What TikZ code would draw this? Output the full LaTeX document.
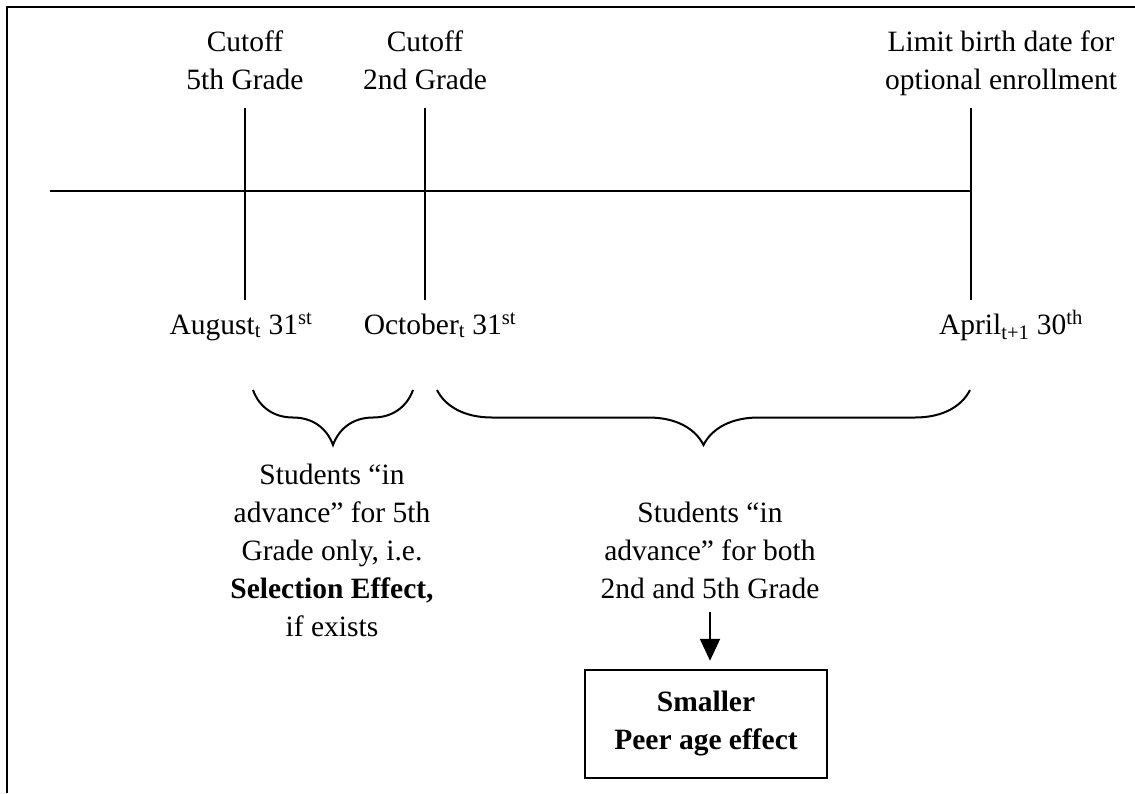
\documentclass[tikz,border=0pt]{standalone}
\usepackage{fontspec}
\setmainfont{Liberation Serif}
\usetikzlibrary{arrows.meta, decorations.pathreplacing}

\begin{document}
\begin{tikzpicture}[x=1pt, y=-1pt, line width=2pt,
  lbl/.style={align=center, inner sep=0pt, font=\fontsize{29.5}{38}\selectfont},
  brc/.style={decorate, decoration={brace, mirror, amplitude=#1}},
  brc/.default=55pt]
\useasboundingbox (0,0) rectangle (1135,793);

\begin{scope}
\coordinate (f1) at (7,793);
\coordinate (f2) at (7,7);
\coordinate (f3) at (1135,7);

\coordinate (t1) at (50,191);
\coordinate (t2) at (971,191);

\coordinate (a1) at (245,108);
\coordinate (a2) at (245,300);
\coordinate (b1) at (425,108);
\coordinate (b2) at (425,300);
\coordinate (c1) at (971,108);
\coordinate (c2) at (971,300);

\draw[line width=2.5pt] (f1) -- (f2) -- (f3);

\draw (t1) -- (t2);
\draw (a1) -- (a2);
\draw (b1) -- (b2);
\draw (c1) -- (c2);

\node[lbl, anchor=north] (cut5) at (245,30) {Cutoff\\5th Grade};
\node[lbl, anchor=north] (cut2) at (425,30) {Cutoff\\2nd Grade};
\node[lbl, anchor=north] (limit) at (1001,30) {Limit birth date for\\optional enrollment};

\node[lbl, anchor=base] (aug) at (241,334) {August\textsubscript{t} 31\textsuperscript{st}};
\node[lbl, anchor=base] (oct) at (440,334) {October\textsubscript{t} 31\textsuperscript{st}};
\node[lbl, anchor=base] (apr) at (1011,334) {April\textsubscript{t+1} 30\textsuperscript{th}};
\end{scope}

\begin{scope}
\coordinate (s1) at (253,390);
\coordinate (s2) at (413,390);
\coordinate (d1) at (437,390);
\coordinate (d2) at (970,390);

\draw[brc] (s1) -- (s2);
\draw[brc] (d1) -- (d2);

\node[lbl, anchor=north] (only5) at (332,463)
  {Students “in\\advance” for 5th\\Grade only, i.e.\\\textbf{Selection Effect,}\\if exists};
\node[lbl, anchor=north] (both) at (710,501)
  {Students “in\\advance” for both\\2nd and 5th Grade};

\node[lbl, draw, line width=2.5pt, minimum width=242pt, minimum height=108pt,
  font=\fontsize{29.5}{38}\selectfont\bfseries] (peer) at (706,724) {Smaller\\Peer age effect};

\draw[-{Triangle[width=20pt,length=22pt]}, shorten <=12pt, shorten >=8pt]
  (both.south) -- (both.south |- peer.north);
\end{scope}

\end{tikzpicture}
\end{document}
